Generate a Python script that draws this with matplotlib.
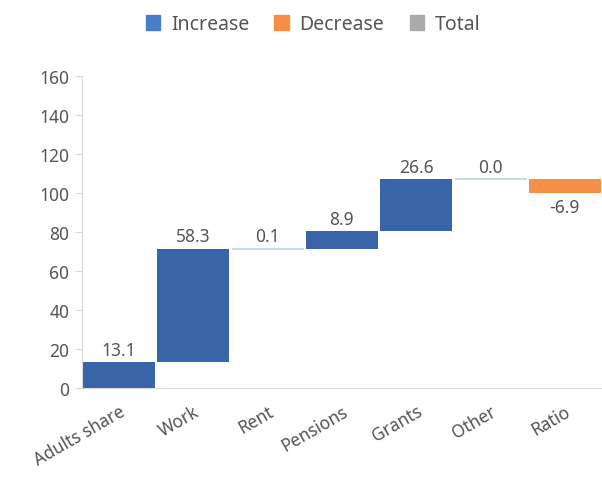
import matplotlib
matplotlib.use("Agg")
import matplotlib.pyplot as plt
from matplotlib.patches import Patch
import numpy as np

categories = ["Adults share", "Work", "Rent", "Pensions", "Grants", "Other", "Ratio"]
values = [13.1, 58.3, 0.1, 8.9, 26.6, 0.0, -6.9]
labels = ["13.1", "58.3", "0.1", "8.9", "26.6", "0.0", "-6.9"]
yticks = [0, 20, 40, 60, 80, 100, 120, 140, 160]

plt.rcParams['font.family'] = ['Noto Sans', 'DejaVu Sans']
BLUE = '#3a64a8'
LIGHT = '#c8d8f0'
ORANGE = '#f48f45'
GRAY = '#aaaaaa'
TXT = '#555555'

fig = plt.figure(figsize=(6.02, 4.85), dpi=100)
ax = fig.add_axes([0.136, 0.198, 0.864, 0.643])

starts = np.concatenate([[0], np.cumsum(values)[:-1]])
x = np.arange(len(categories))
for i, (s, v, lab) in enumerate(zip(starts, values, labels)):
    if abs(v) < 0.5:
        ax.bar(x[i], v if v != 0 else 0.0001, bottom=s, width=0.97, color=LIGHT,
               edgecolor=LIGHT, linewidth=1.5)
    else:
        ax.bar(x[i], v, bottom=s, width=0.97, color=BLUE if v > 0 else ORANGE, linewidth=0)
    top = s + v
    if v >= 0:
        ax.text(x[i], top + 1.8, lab, ha='center', va='bottom', fontsize=12.5, color=TXT)
    else:
        ax.text(x[i], top - 2.5, lab, ha='center', va='top', fontsize=12.5, color=TXT)

ax.set_xlim(-0.5, len(categories) - 0.5)
ax.set_ylim(0, 160)
ax.set_yticks(yticks)
ax.set_yticklabels([str(t) for t in yticks], fontsize=12.5, color=TXT)
ax.set_xticks(x)
ax.set_xticklabels(categories, rotation=30, ha='right', rotation_mode='anchor',
                   fontsize=12.5, color=TXT)
ax.tick_params(axis='x', length=0, pad=10)
ax.tick_params(axis='y', length=5, color='#d9d9d9', pad=4)
for sp in ['top', 'right']:
    ax.spines[sp].set_visible(False)
ax.spines['left'].set_color('#d9d9d9')
ax.spines['bottom'].set_color('#d9d9d9')

handles = [Patch(color='#4a7cc8', label='Increase'),
           Patch(color=ORANGE, label='Decrease'),
           Patch(color=GRAY, label='Total')]
fig.legend(handles=handles, loc='center', bbox_to_anchor=(0.52, 0.948), ncol=3,
           frameon=False, fontsize=14, handlelength=0.75, handleheight=0.75,
           handletextpad=0.55, columnspacing=1.3, labelcolor=TXT)

fig.savefig("out.png", dpi=100)
